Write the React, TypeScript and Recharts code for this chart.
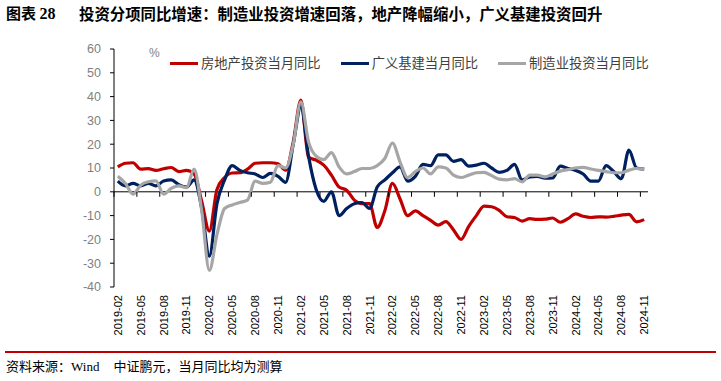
import { LineChart, Line, XAxis, YAxis, ReferenceLine } from 'recharts'

const months: string[] = [
  '2019-02', '2019-03', '2019-04', '2019-05', '2019-06', '2019-07', '2019-08', '2019-09', '2019-10', '2019-11', '2019-12',
  '2020-01', '2020-02', '2020-03', '2020-04', '2020-05', '2020-06', '2020-07', '2020-08', '2020-09', '2020-10', '2020-11', '2020-12',
  '2021-01', '2021-02', '2021-03', '2021-04', '2021-05', '2021-06', '2021-07', '2021-08', '2021-09', '2021-10', '2021-11', '2021-12',
  '2022-01', '2022-02', '2022-03', '2022-04', '2022-05', '2022-06', '2022-07', '2022-08', '2022-09', '2022-10', '2022-11', '2022-12',
  '2023-01', '2023-02', '2023-03', '2023-04', '2023-05', '2023-06', '2023-07', '2023-08', '2023-09', '2023-10', '2023-11', '2023-12',
  '2024-01', '2024-02', '2024-03', '2024-04', '2024-05', '2024-06', '2024-07', '2024-08', '2024-09', '2024-10', '2024-11',
]

// 房地产投资当月同比
const realEstate = [
  10.5, 12, 12.2, 9.5, 9.7, 9, 9.7, 10.2, 8.5, 9, 7.5,
  -4, -16.5, 1, 6, 7.9, 8, 9.5, 12, 12.2, 12.2, 11.8, 9.1,
  21, 38.5, 14.5, 13.3, 11.2, 7, 2, 0.7, -3.5, -5, -5, -15,
  -8, 3.5, -3, -10, -8, -10, -12, -14, -12.5, -16, -20, -14.5,
  -10, -6, -6.3, -7.8, -10.5, -10.8, -12.3, -11.3, -11.6, -11.5, -11, -12.8,
  -11.3, -9.3, -10.3, -10.8, -10.5, -10.6, -10.3, -9.8, -9.5, -12.6, -11.7,
]

// 广义基建当月同比
const infra = [
  4.5, 2.5, 3.5, 2.5, 3.5, 2.5, 4.5, 5, 3, 2, 5,
  -7, -27, -5, 5, 11, 9, 8, 7.5, 6, 7.7, 6.5, 4,
  20, 35.7, 15, 1, -4, 0, -10, -7, -5, -4.5, -7, 2,
  5, 8, 10.5, 4.5, 6.5, 11.5, 11, 15.5, 15.5, 12.8, 13.5, 10.8,
  11.2, 12, 10, 8.2, 9, 11.5, 5, 6.3, 6.5, 5.7, 5.8, 10.8,
  9.8, 9, 7.5, 4.5, 4.5, 11, 8.5, 5.5, 17.5, 10, 9.5,
]

// 制造业投资当月同比
const manufacturing = [
  6.5, 3.5, -1, 2.8, 4.2, 4.6, -1, 1.4, 2.5, 1.7, 9.5,
  -8, -33, -18, -7, -5.5, -4.5, -3.5, 4.5, 3.5, 4, 11, 10,
  20, 37.8, 21, 15, 13.5, 16.5, 10.5, 7.5, 8.5, 9.8, 9.8, 11,
  14, 20.5, 12.5, 6, 8.5, 10, 7.5, 10.5, 10, 7, 6, 7,
  8, 8.2, 6.8, 5.3, 5, 5.5, 4.2, 7, 7, 6.3, 7.5, 8.7,
  9.3, 10, 10.3, 9.6, 9, 8.5, 8, 8, 9.1, 9.8, 9.5,
]

const yTicks = [-40, -30, -20, -10, 0, 10, 20, 30, 40, 50, 60]

const series = [
  { key: 'realEstate', name: '房地产投资当月同比', color: '#C00000' },
  { key: 'infra', name: '广义基建当月同比', color: '#002060' },
  { key: 'manufacturing', name: '制造业投资当月同比', color: '#A6A6A6' },
]

const data = months.map((m, i) => ({
  month: m,
  realEstate: realEstate[i],
  infra: infra[i],
  manufacturing: manufacturing[i],
}))

const TOP = 49
const PLOT_H = 238
const ZERO_Y = TOP + PLOT_H * 0.6
const HALF_BAND = 3.8
const CJK = '"Noto Sans CJK SC", sans-serif'

function MonthTick({ x, y, payload }: any) {
  return (
    <g>
      <line x1={x - HALF_BAND} x2={x - HALF_BAND} y1={ZERO_Y} y2={ZERO_Y + 5} stroke="#000" strokeWidth={1} />
      <text
        x={x}
        y={y}
        transform={`rotate(-90, ${x}, ${y})`}
        textAnchor="end"
        dominantBaseline="central"
        fontSize={11}
        fontFamily="Liberation Sans, Arial, sans-serif"
        fill="#000"
      >
        {payload.value}
      </text>
    </g>
  )
}

export default function App() {
  return (
    <div style={{ position: 'absolute', left: 0, top: 0, width: 721, height: 381, background: '#fff', overflow: 'hidden' }}>
      <div style={{ position: 'absolute', left: 6, top: 3, fontSize: 15, fontWeight: 700, fontFamily: CJK, color: '#000', whiteSpace: 'nowrap', lineHeight: '20px' }}>
        图表 <span style={{ fontFamily: '"Liberation Serif", serif', fontSize: 16 }}>28</span>
      </div>
      <div style={{ position: 'absolute', left: 79, top: 3, fontSize: 15.4, fontWeight: 700, fontFamily: CJK, color: '#000', whiteSpace: 'nowrap', lineHeight: '20px' }}>
        投资分项同比增速：制造业投资增速回落，地产降幅缩小，广义基建投资回升
      </div>

      <LineChart width={721} height={340} data={data} margin={{ top: TOP, right: 73, bottom: 3, left: 84 }}>
        <XAxis
          dataKey="month"
          interval={2}
          axisLine={false}
          tickLine={false}
          height={50}
          padding={{ left: HALF_BAND, right: HALF_BAND }}
          tick={<MonthTick />}
        />
        <YAxis
          width={30}
          domain={[-40, 60]}
          ticks={yTicks}
          interval={0}
          axisLine={{ stroke: '#000' }}
          tickLine={{ stroke: '#000' }}
          tickSize={4}
          tickMargin={9}
          tick={{ fill: '#7F7F7F', fontSize: 12.5, fontFamily: 'Liberation Sans, Arial, sans-serif' }}
        />
        <ReferenceLine y={0} stroke="#000" strokeWidth={1} />
        {series.map((s) => (
          <Line
            key={s.key}
            type="monotone"
            dataKey={s.key}
            name={s.name}
            stroke={s.color}
            strokeWidth={3.2}
            dot={false}
            isAnimationActive={false}
          />
        ))}
      </LineChart>

      <div style={{ position: 'absolute', left: 149, top: 46, fontSize: 12, color: '#7F7F7F', fontFamily: 'Liberation Sans, Arial, sans-serif' }}>%</div>

      <div style={{ position: 'absolute', left: 170, top: 54, display: 'flex', alignItems: 'center', fontFamily: CJK, fontSize: 13.3, color: '#404040', whiteSpace: 'nowrap', lineHeight: '18px' }}>
        {series.map((s, i) => (
          <div key={s.key} style={{ display: 'flex', alignItems: 'center', marginRight: i < series.length - 1 ? 20 : 0 }}>
            <div style={{ width: 28, height: 3, background: s.color, marginRight: 3 }} />
            <span>{s.name}</span>
          </div>
        ))}
      </div>

      <div style={{ position: 'absolute', left: 5, top: 351, width: 711, height: 2, background: '#C00000' }} />
      <div style={{ position: 'absolute', left: 6, top: 357, fontSize: 13, fontFamily: CJK, color: '#000', whiteSpace: 'nowrap', lineHeight: '18px' }}>
        资料来源：<span style={{ fontFamily: '"Liberation Serif", serif' }}>Wind</span>
        <span style={{ marginLeft: 14 }}>中证鹏元，当月同比均为测算</span>
      </div>
    </div>
  )
}
